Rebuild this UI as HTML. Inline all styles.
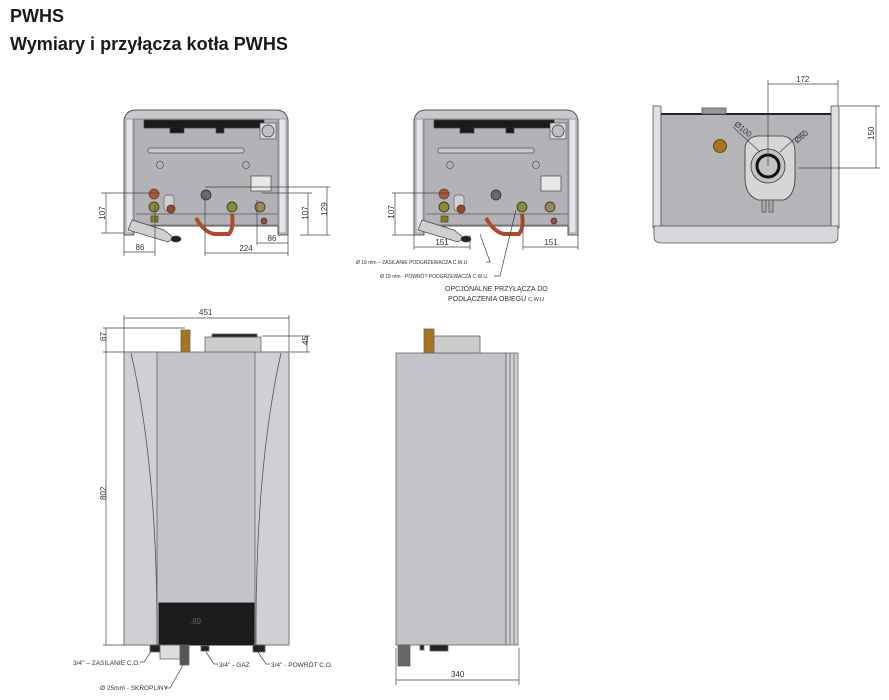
<!DOCTYPE html>
<html><head><meta charset="utf-8"><style>
html,body{margin:0;padding:0;background:#fff;}
svg{display:block;font-family:"Liberation Sans",sans-serif;}
</style></head><body>
<svg width="889" height="700" viewBox="0 0 889 700" xmlns="http://www.w3.org/2000/svg">
<defs>
<g id="bv">
  <path d="M0,10 Q2,0 12,0 L152,0 Q162,0 164,10 L164,125 L154,125 L154,116 L10,116 L10,125 L0,125 Z" fill="#c9c9cd" stroke="#555" stroke-width="1"/>
  <rect x="2" y="9" width="7" height="114" fill="#e4e4e8" stroke="#777" stroke-width="0.6"/>
  <rect x="155" y="9" width="7" height="114" fill="#e4e4e8" stroke="#777" stroke-width="0.6"/>
  <rect x="10" y="9" width="144" height="106" fill="#b3b3b7" stroke="#666" stroke-width="0.6"/>
  <path d="M20,10 L140,10 L140,18 L100,18 L100,23 L92,23 L92,18 L60,18 L60,23 L46,23 L46,18 L20,18 Z" fill="#1a1a1a"/>
  <rect x="24" y="38" width="96" height="5" fill="#c8c8cc" stroke="#555" stroke-width="0.8" rx="2"/>
  <rect x="136" y="13" width="16" height="16" fill="#d8d8dc" stroke="#555"/>
  <circle cx="144" cy="21" r="6" fill="#c0c0c4" stroke="#333"/>
  <circle cx="36" cy="55" r="3.5" fill="none" stroke="#555"/>
  <circle cx="122" cy="55" r="3.5" fill="none" stroke="#555"/>
  <circle cx="30" cy="84" r="5" fill="#b4552c" stroke="#444"/>
  <rect x="40" y="85" width="10" height="16" rx="3" fill="#cfcfcf" stroke="#666"/>
  <circle cx="30" cy="97" r="5" fill="#8a8a30" stroke="#222"/>
  <circle cx="47" cy="99" r="4" fill="#a0452a" stroke="#333"/>
  <rect x="27" y="106" width="7" height="6" fill="#8a7a20"/>
  <circle cx="82" cy="85" r="5" fill="#6a6a6a" stroke="#222"/>
  <circle cx="108" cy="97" r="5" fill="#8a8a30" stroke="#222"/>
  <rect x="127" y="66" width="20" height="15" fill="#e8e8e8" stroke="#444"/>
  <circle cx="136" cy="97" r="5" fill="#9a8a50" stroke="#222"/>
  <circle cx="140" cy="111" r="3" fill="#a04a3a" stroke="#333"/>
  <path d="M72,108 Q80,122 90,124 L105,124 Q110,118 108,104" fill="none" stroke="#b04a2a" stroke-width="4"/>
  <path d="M8,110 L40,120 L50,128 L44,132 L4,120 Z" fill="#d0d0d4" stroke="#444"/>
  <ellipse cx="52" cy="129" rx="5" ry="3" fill="#222"/>
  <line x1="12" y1="104" x2="154" y2="104" stroke="#555" stroke-width="0.8"/>
</g>
</defs>

<text x="10" y="22" font-size="18" font-weight="bold" fill="#1a1a1a">PWHS</text>
<text x="10" y="50" font-size="18" font-weight="bold" fill="#1a1a1a" textLength="278" lengthAdjust="spacingAndGlyphs">Wymiary i przyłącza kotła PWHS</text>

<g fill="none" stroke="#444" stroke-width="0.7" font-size="8" >
<use href="#bv" x="124" y="110"/>
<line x1="101" y1="193" x2="160" y2="193"/><line x1="101" y1="233" x2="124" y2="233"/>
<line x1="106" y1="193" x2="106" y2="233"/>
<line x1="124" y1="233" x2="124" y2="256"/><line x1="155" y1="205" x2="155" y2="256"/>
<line x1="124" y1="252" x2="155" y2="252"/>
<line x1="205" y1="195" x2="205" y2="256"/><line x1="288" y1="235" x2="288" y2="256"/>
<line x1="205" y1="253" x2="288" y2="253"/>
<line x1="257" y1="200" x2="257" y2="245"/><line x1="257" y1="243" x2="288" y2="243"/>
<line x1="262" y1="193" x2="312" y2="193"/><line x1="205" y1="187" x2="330" y2="187"/>
<line x1="300" y1="235" x2="330" y2="235"/>
<line x1="308" y1="193" x2="308" y2="235"/><line x1="327" y1="187" x2="327" y2="235"/>
<use href="#bv" x="414" y="110"/>
<line x1="392" y1="193" x2="450" y2="193"/><line x1="392" y1="235" x2="414" y2="235"/>
<line x1="395" y1="193" x2="395" y2="235"/>
<line x1="414" y1="235" x2="414" y2="250"/><line x1="470" y1="235" x2="470" y2="250"/>
<line x1="414" y1="247" x2="470" y2="247"/>
<line x1="523" y1="215" x2="523" y2="250"/><line x1="578" y1="235" x2="578" y2="250"/>
<line x1="523" y1="247" x2="578" y2="247"/>
<polyline points="480,234 490,262 486,262"/>
<polyline points="516,210 500,276 494,276"/>
</g>
<g font-size="8" fill="#333" text-anchor="middle">
<text x="102" y="216" transform="rotate(-90 102 213)">107</text>
<text x="140" y="250">86</text><text x="246" y="251">224</text><text x="272" y="241">86</text>
<text x="305" y="216" transform="rotate(-90 305 213)">107</text>
<text x="324" y="212" transform="rotate(-90 324 209)">129</text>
<text x="391" y="215" transform="rotate(-90 391 212)">107</text>
<text x="442" y="245">151</text><text x="551" y="245">151</text>
</g>
<g font-size="5" fill="#333">
<text x="356" y="264">Ø 18 mm – ZASILANIE PODGRZEWACZA C.W.U</text>
<text x="380" y="278">Ø 18 mm - POWRÓT  PODGRZEWACZA C.W.U.</text>
</g>
<text x="445" y="291" font-size="7" fill="#333">OPCJONALNE PRZYŁĄCZA DO</text>
<text x="448" y="301" font-size="7" fill="#333">PODŁĄCZENIA OBIEGU <tspan font-size="5.5">C.W.U</tspan></text>

<g stroke="#555" stroke-width="0.8">
<rect x="653" y="106" width="8" height="122" fill="#e0e0e4"/>
<rect x="831" y="106" width="8" height="122" fill="#e0e0e4"/>
<rect x="661" y="114" width="170" height="112" fill="#b5b5b9"/>
<line x1="661" y1="114" x2="831" y2="114" stroke="#222" stroke-width="2"/>
<path d="M654,226 L838,226 L838,237 Q838,243 830,243 L662,243 Q654,243 654,237 Z" fill="#d8d8dc"/>
<rect x="702" y="108" width="24" height="6" fill="#999"/>
<circle cx="720" cy="146" r="6.5" fill="#a8741e" stroke="#333"/>
<path d="M745,152 Q744,138 757,136 L783,136 Q795,138 795,152 L795,178 Q795,195 784,200 L758,200 Q745,195 745,178 Z" fill="#d6d6d6" stroke="#333"/>
<circle cx="768" cy="166" r="17" fill="#c4c4c4" stroke="#333"/>
<circle cx="768" cy="166" r="11" fill="none" stroke="#111" stroke-width="3"/>
<rect x="762" y="200" width="4" height="12" fill="#aaa"/><rect x="769" y="200" width="4" height="12" fill="#aaa"/>
</g>
<g fill="none" stroke="#444" stroke-width="0.7">
<line x1="768" y1="80" x2="768" y2="166"/><line x1="838" y1="80" x2="838" y2="106"/>
<line x1="768" y1="84" x2="838" y2="84"/>
<line x1="840" y1="106" x2="880" y2="106"/><line x1="798" y1="168" x2="880" y2="168"/>
<line x1="876" y1="106" x2="876" y2="168"/>
<line x1="733" y1="127" x2="760" y2="152"/><line x1="803" y1="131" x2="780" y2="152"/>
</g>
<g font-size="8" fill="#333">
<text x="796" y="82">172</text>
<text x="872" y="142" transform="rotate(-90 872 140)">150</text>
<text x="732" y="130" transform="rotate(40 740 130)">Ø100</text>
<text x="793" y="140" transform="rotate(-40 800 136)">Ø60</text>
</g>

<g stroke="#666" stroke-width="0.8">
<rect x="124" y="352" width="165" height="293" fill="#c3c3c9"/>
<rect x="124" y="352" width="33" height="293" fill="#cfcfd5"/>
<rect x="255" y="352" width="34" height="293" fill="#cfcfd5"/>
<path d="M131,353 Q158,470 157,645" fill="none" stroke="#555"/>
<path d="M281,353 Q255,470 256,645" fill="none" stroke="#555"/>
<rect x="159" y="603" width="95" height="42" fill="#1c1c1c" stroke="#111"/>
<rect x="205" y="337" width="56" height="15" fill="#ccc"/>
<rect x="212" y="334" width="45" height="3" fill="#222"/>
<rect x="181" y="330" width="9" height="22" fill="#a8741e"/>
<rect x="150" y="645" width="12" height="7" fill="#222"/>
<rect x="160" y="645" width="20" height="14" fill="#ddd"/>
<rect x="180" y="645" width="9" height="20" fill="#555"/>
<rect x="201" y="646" width="8" height="5" fill="#222"/>
<rect x="253" y="645" width="12" height="7" fill="#222"/>
</g>
<text x="190" y="624" font-size="8" fill="#666">.89</text>
<g stroke="#666" stroke-width="0.8">
<rect x="396" y="353" width="110" height="292" fill="#c3c3c9"/>
<rect x="506" y="353" width="12" height="292" fill="#d0d0d5"/>
<line x1="510" y1="353" x2="510" y2="645"/><line x1="514" y1="353" x2="514" y2="645"/>
<rect x="424" y="329" width="10" height="24" fill="#a8741e"/>
<rect x="434" y="336" width="46" height="17" fill="#ccc"/>
<rect x="398" y="645" width="12" height="21" fill="#666"/>
<rect x="420" y="645" width="4" height="5" fill="#222"/>
<rect x="430" y="645" width="18" height="6" fill="#222"/>
</g>
<g fill="none" stroke="#444" stroke-width="0.7">
<line x1="124" y1="315" x2="124" y2="352"/><line x1="289" y1="315" x2="289" y2="352"/>
<line x1="124" y1="318" x2="289" y2="318"/>
<line x1="103" y1="328" x2="185" y2="328"/><line x1="103" y1="352" x2="124" y2="352"/>
<line x1="106" y1="328" x2="106" y2="645"/><line x1="103" y1="645" x2="124" y2="645"/>
<line x1="262" y1="336" x2="310" y2="336"/><line x1="290" y1="352" x2="310" y2="352"/>
<line x1="307" y1="336" x2="307" y2="352"/>
<line x1="396" y1="648" x2="396" y2="685"/><line x1="519" y1="648" x2="519" y2="685"/>
<line x1="396" y1="680" x2="519" y2="680"/>
<polyline points="152,650 144,662 140,662"/>
<polyline points="183,665 170,688 165,688"/>
<polyline points="206,652 214,664 218,664"/>
<polyline points="258,652 266,664 270,664"/>
</g>
<g font-size="8" fill="#333">
<text x="199" y="315">451</text>
<text x="103" y="344" transform="rotate(-90 103 341)">67</text>
<text x="103" y="503" transform="rotate(-90 103 500)">802</text>
<text x="305" y="348" transform="rotate(-90 305 345)">45</text>
<text x="451" y="677">340</text>
</g>
<g font-size="6.5" fill="#333">
<text x="73" y="665">3/4'' – ZASILANIE C.O.</text>
<text x="219" y="667">3/4'' - GAZ</text>
<text x="271" y="667">3/4'' - POWRÓT C.O.</text>
<text x="100" y="690">Ø 25mm - SKROPLINY</text>
</g>
</svg>
</body></html>
